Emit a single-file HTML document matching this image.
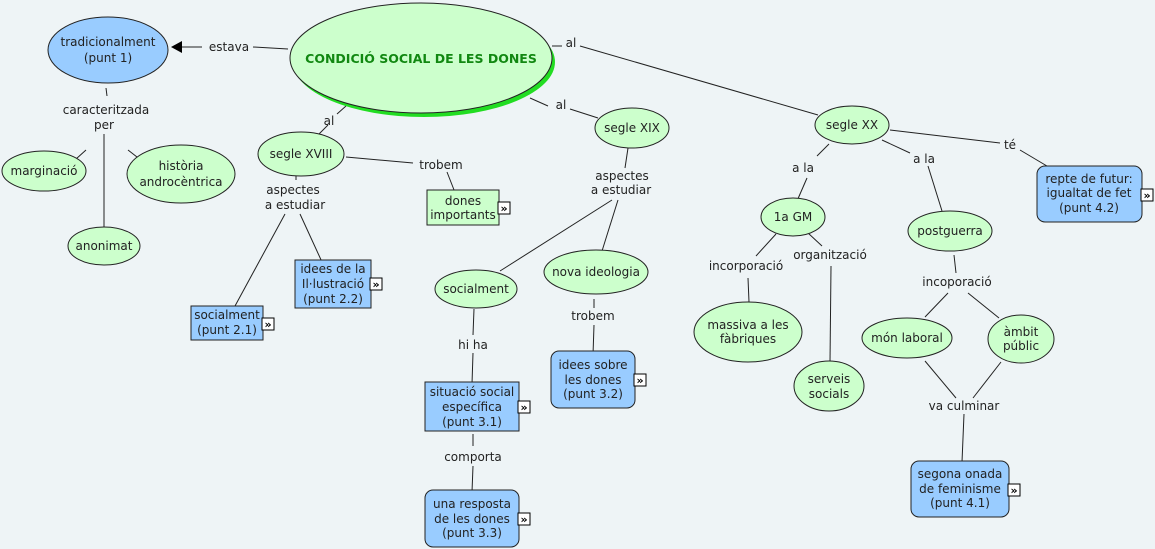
<!DOCTYPE html>
<html><head><meta charset="utf-8"><style>
html,body{margin:0;padding:0;background:#eef4f6;}
svg{display:block}
text{font-family:"DejaVu Sans","Liberation Sans",sans-serif;font-size:12px;fill:#222;text-anchor:middle}
.l{stroke:#222;stroke-width:1;fill:none}
.g{fill:#ccffcc;stroke:#222;stroke-width:1}
.b{fill:#99ccff;stroke:#222;stroke-width:1}
.lb{fill:#eef4f6}
</style></head><body>
<svg width="1155" height="549" viewBox="0 0 1155 549" xmlns="http://www.w3.org/2000/svg">
<defs>
<g id="ic"><rect x="0" y="0" width="12" height="12" fill="#fff" stroke="#000"/><text x="6" y="10" style="font-size:11px;font-weight:bold;fill:#000">»</text></g>
</defs>
<!-- lines -->
<g class="l">
<line x1="288" y1="49" x2="253" y2="47"/><line x1="202" y1="47" x2="182" y2="47"/>
<line x1="107" y1="96" x2="106" y2="88"/>
<line x1="86" y1="150" x2="66" y2="168"/><line x1="128" y1="150" x2="146" y2="164"/>
<line x1="104" y1="134" x2="104" y2="228"/>
<line x1="552" y1="46" x2="562" y2="46"/><line x1="580" y1="46" x2="818" y2="115"/>
<line x1="346" y1="106" x2="337" y2="114"/><line x1="328" y1="125" x2="318" y2="135"/>
<line x1="530" y1="98" x2="548" y2="106"/><line x1="570" y1="109" x2="598" y2="118"/>
<line x1="346" y1="157" x2="413" y2="163"/><line x1="447" y1="172" x2="456" y2="195"/>
<line x1="296" y1="176" x2="296" y2="180"/>
<line x1="285" y1="214" x2="235" y2="306"/><line x1="300" y1="214" x2="322" y2="262"/>
<line x1="628" y1="148" x2="625" y2="168"/>
<line x1="612" y1="200" x2="500" y2="271"/><line x1="618" y1="200" x2="602" y2="251"/>
<line x1="474" y1="309" x2="473" y2="335"/><line x1="473" y1="353" x2="472" y2="384"/>
<line x1="473" y1="434" x2="473" y2="446"/><line x1="473" y1="466" x2="472" y2="492"/>
<line x1="594" y1="299" x2="594" y2="308"/><line x1="594" y1="325" x2="593" y2="355"/>
<line x1="829" y1="144" x2="817" y2="156"/><line x1="807" y1="178" x2="797" y2="201"/>
<line x1="882" y1="140" x2="910" y2="153"/><line x1="928" y1="166" x2="942" y2="211"/>
<line x1="890" y1="130" x2="1000" y2="143"/><line x1="1020" y1="150" x2="1052" y2="169"/>
<line x1="776" y1="234" x2="756" y2="256"/><line x1="808" y1="233" x2="822" y2="246"/>
<line x1="748" y1="278" x2="749" y2="302"/><line x1="831" y1="266" x2="830" y2="362"/>
<line x1="954" y1="255" x2="956" y2="273"/><line x1="948" y1="293" x2="925" y2="317"/><line x1="968" y1="293" x2="999" y2="318"/>
<line x1="925" y1="361" x2="956" y2="398"/><line x1="1001" y1="362" x2="973" y2="398"/>
<line x1="964" y1="414" x2="962" y2="462"/>
</g>
<polygon points="171,47 182,41 182,53" fill="#000"/>
<!-- main -->
<ellipse cx="424" cy="62" rx="131" ry="55" fill="#22dd22"/>
<ellipse cx="421" cy="58" rx="131" ry="55" class="g"/>
<text x="421" y="63" style="font-weight:bold;fill:#118811;font-size:12.5px">CONDICIÓ SOCIAL DE LES DONES</text>
<ellipse cx="108" cy="50" rx="60" ry="33" class="b"/>
<text x="108" y="46">tradicionalment</text><text x="108" y="62">(punt 1)</text>
<ellipse cx="44" cy="171" rx="42" ry="20" class="g"/><text x="44" y="175">marginació</text>
<ellipse cx="181" cy="174" rx="54" ry="29" class="g"/><text x="181" y="170">història</text><text x="181" y="186">androcèntrica</text>
<ellipse cx="104" cy="246" rx="36" ry="19" class="g"/><text x="104" y="250">anonimat</text>
<ellipse cx="301" cy="154" rx="43" ry="22" class="g"/><text x="301" y="158">segle XVIII</text>
<rect x="427" y="190" width="72" height="35" class="g"/><text x="463" y="205">dones</text><text x="463" y="219">importants</text><use href="#ic" x="498" y="202"/>
<rect x="295" y="260" width="76" height="48" class="b"/><text x="333" y="273">idees de la</text><text x="333" y="288">Il·lustració</text><text x="333" y="303">(punt 2.2)</text><use href="#ic" x="370" y="278"/>
<rect x="191" y="306" width="72" height="34" class="b"/><text x="227" y="319">socialment</text><text x="227" y="334">(punt 2.1)</text><use href="#ic" x="262" y="318"/>
<ellipse cx="632" cy="128" rx="37" ry="20" class="g"/><text x="632" y="132">segle XIX</text>
<ellipse cx="476" cy="289" rx="41" ry="19" class="g"/><text x="476" y="293">socialment</text>
<ellipse cx="596" cy="272" rx="52" ry="22" class="g"/><text x="596" y="276">nova ideologia</text>
<rect x="425" y="382" width="94" height="49" class="b"/><text x="472" y="396">situació social</text><text x="472" y="411">específica</text><text x="472" y="426">(punt 3.1)</text><use href="#ic" x="518" y="401"/>
<rect x="425" y="490" width="94" height="57" rx="8" class="b"/><text x="472" y="508">una resposta</text><text x="472" y="523">de les dones</text><text x="472" y="537">(punt 3.3)</text><use href="#ic" x="518" y="513"/>
<rect x="551" y="351" width="84" height="57" rx="8" class="b"/><text x="593" y="369">idees sobre</text><text x="593" y="384">les dones</text><text x="593" y="398">(punt 3.2)</text><use href="#ic" x="634" y="374"/>
<ellipse cx="852" cy="125" rx="37" ry="19" class="g"/><text x="852" y="129">segle XX</text>
<ellipse cx="793" cy="217" rx="32" ry="19" class="g"/><text x="793" y="221">1a GM</text>
<ellipse cx="950" cy="231" rx="42" ry="20" class="g"/><text x="950" y="235">postguerra</text>
<rect x="1037" y="166" width="105" height="56" rx="8" class="b"/><text x="1089" y="183">repte de futur:</text><text x="1089" y="197">igualtat de fet</text><text x="1089" y="212">(punt 4.2)</text><use href="#ic" x="1141" y="189"/>
<ellipse cx="748" cy="332" rx="54" ry="30" class="g"/><text x="748" y="329">massiva a les</text><text x="748" y="343">fàbriques</text>
<ellipse cx="829" cy="386" rx="35" ry="25" class="g"/><text x="829" y="383">serveis</text><text x="829" y="398">socials</text>
<ellipse cx="907" cy="338" rx="45" ry="20" class="g"/><text x="907" y="342">món laboral</text>
<ellipse cx="1021" cy="339" rx="33" ry="24" class="g"/><text x="1021" y="336">àmbit</text><text x="1021" y="350">públic</text>
<rect x="911" y="461" width="98" height="56" rx="8" class="b"/><text x="960" y="478">segona onada</text><text x="960" y="493">de feminisme</text><text x="960" y="507">(punt 4.1)</text><use href="#ic" x="1008" y="484"/>
<!-- labels -->
<text x="229" y="51">estava</text>
<text x="106" y="114">caracteritzada</text><text x="104" y="129">per</text>
<text x="571" y="47">al</text>
<text x="329" y="125">al</text>
<text x="561" y="109">al</text>
<text x="441" y="169">trobem</text>
<text x="293" y="194">aspectes</text><text x="295" y="209">a estudiar</text>
<text x="622" y="180">aspectes</text><text x="621" y="194">a estudiar</text>
<text x="473" y="349">hi ha</text>
<text x="473" y="461">comporta</text>
<text x="593" y="320">trobem</text>
<text x="803" y="172">a la</text>
<text x="924" y="163">a la</text>
<text x="1010" y="149">té</text>
<text x="746" y="270">incorporació</text>
<text x="830" y="259">organització</text>
<text x="957" y="286">incoporació</text>
<text x="964" y="410">va culminar</text>
</svg>
</body></html>
